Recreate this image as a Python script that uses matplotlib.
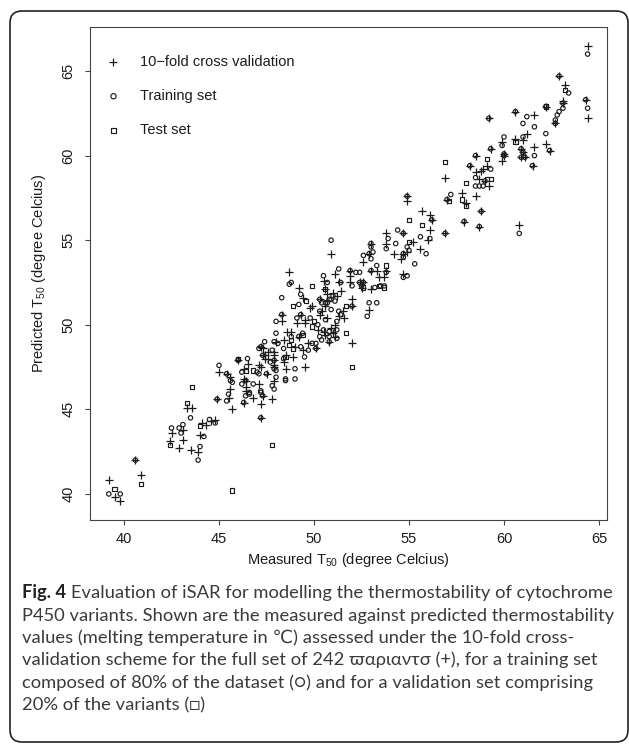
import matplotlib
matplotlib.use("Agg")
import matplotlib.pyplot as plt
from matplotlib.patches import FancyBboxPatch

# --- data (measured T50, predicted T50) ---
cv_measured = [39.2, 39.5, 39.8, 40.6, 40.9, 42.4, 42.5, 42.9, 43.1, 43.1, 43.3, 43.6, 43.5, 43.9, 44.0,
               44.1, 44.3, 44.6, 44.8, 44.9, 45.0, 45.4, 45.5, 45.7, 45.6, 45.6, 46.0, 46.3, 46.4, 46.3,
               46.5, 46.3, 46.8, 47.1, 47.2, 47.2, 47.3, 47.2, 47.3, 47.8, 47.9, 47.9, 48.5, 49.5,
               46.4, 46.4, 47.5, 47.2, 47.4, 47.6, 47.9,
               49.2, 50.7, 51.0, 51.2, 50.3, 50.6, 48.3, 48.3, 49.3, 49.1, 49.5, 49.8, 50.3,
               50.4, 50.7, 51.1, 50.2, 51.3, 50.6, 48.6, 48.8, 49.2, 48.0, 48.4, 49.7, 51.1,
               47.6, 47.9, 48.5, 49.0, 49.4, 47.3, 47.4, 48.9, 47.9, 47.9, 48.4, 47.1,
               50.9, 53.0, 52.6, 53.0, 53.3, 53.4, 53.7, 53.0, 51.9, 51.9, 52.4, 52.5, 51.9, 51.1,
               51.3, 50.5, 49.4, 48.7, 50.6, 51.4, 50.7, 51.5, 52.0, 52.0, 51.6, 52.9, 49.5, 49.9,
               50.9, 51.0, 50.5,
               54.9, 55.7, 56.1, 56.2, 56.1, 56.0, 55.6, 54.7, 55.2, 54.9, 54.6, 54.7, 54.2, 53.8,
               53.8, 52.9, 53.8, 54.7, 52.6,
               59.3, 58.5, 59.1, 56.9, 58.2, 58.5, 58.8, 58.7, 59.0, 59.2, 54.9, 57.0, 57.8, 58.0,
               58.5, 58.8, 57.9, 58.7, 56.9,
               63.2, 62.2, 63.1, 62.7, 60.6, 61.6, 59.2, 61.2, 61.0, 60.6, 59.9, 62.2, 62.4, 61.6,
               60.9, 61.0, 61.1, 60.9, 60.0, 60.0, 59.9, 61.5, 58.9,
               64.4, 62.9, 64.3, 64.4, 63.1, 60.8, 52.0, 50.8, 50.1]
cv_predicted = [40.8, 39.8, 39.6, 42.0, 41.1, 43.1, 43.6, 42.7, 43.8, 43.2, 45.1, 45.1, 42.6, 42.5, 43.5,
                44.2, 44.1, 44.3, 44.4, 45.6, 47.2, 47.1, 45.7, 45.0, 46.2, 46.9, 47.9, 46.8, 46.3, 45.4,
                47.7, 47.4, 45.7, 46.5, 44.5, 45.3, 45.8, 47.5, 48.6, 45.6, 46.7, 47.5, 47.4, 47.5,
                46.7, 46.1, 47.1, 48.7, 48.2, 48.0, 48.2,
                52.2, 51.8, 51.9, 51.7, 51.5, 51.1, 50.6, 50.2, 50.6, 50.1, 50.1, 51.0, 50.6,
                50.8, 50.4, 50.0, 49.7, 50.5, 49.4, 49.6, 49.6, 49.3, 49.0, 49.1, 48.9, 49.3,
                48.4, 48.4, 48.2, 48.7, 48.5, 48.2, 48.0, 48.1, 47.9, 47.6, 47.8, 47.6,
                54.2, 54.8, 53.7, 53.2, 53.2, 52.8, 52.8, 52.1, 53.2, 52.9, 52.5, 52.2, 52.5, 53.0,
                52.5, 52.6, 51.6, 53.1, 52.1, 52.0, 51.4, 50.8, 51.5, 51.1, 50.4, 50.9, 50.3, 51.1,
                49.8, 49.5, 49.6,
                57.3, 56.7, 56.5, 56.2, 55.6, 55.0, 54.5, 55.4, 54.9, 54.3, 53.9, 54.2, 54.2, 55.4,
                54.8, 54.2, 53.2, 53.0, 52.5,
                60.4, 60.0, 59.4, 58.7, 59.4, 59.0, 59.1, 58.6, 58.5, 58.2, 57.6, 57.4, 57.8, 57.2,
                57.6, 56.7, 56.1, 55.8, 55.4,
                64.2, 62.9, 63.1, 61.9, 62.6, 62.4, 62.2, 61.3, 60.9, 61.0, 60.8, 60.7, 60.3, 60.5,
                60.4, 60.2, 59.9, 59.9, 60.1, 60.0, 59.7, 59.4, 59.2,
                66.5, 64.7, 63.3, 62.2, 63.2, 55.9, 48.9, 49.0, 48.6]

train_measured = [39.2, 39.8, 40.6, 42.5, 42.9, 43.0, 43.1, 43.5, 43.9, 44.0, 44.2, 44.5, 44.8, 44.9,
                  45.0, 45.4, 45.4, 45.5, 45.6, 46.0, 46.2, 46.3, 46.4, 46.5, 46.6, 46.8, 47.2, 47.2,
                  47.3, 47.1, 47.1, 47.9, 48.0, 48.5, 49.0, 46.2, 45.7, 46.6, 47.2, 47.8, 47.5, 47.2,
                  47.4, 47.8, 47.9, 48.1, 47.7, 46.4, 47.0,
                  48.7, 49.3, 48.3, 49.2, 50.3, 50.4, 50.7, 50.9, 48.3, 48.0, 49.3, 49.1, 49.8, 50.3,
                  50.6, 50.9, 50.2, 51.2, 50.8, 50.4, 48.8, 49.2, 48.0, 49.9, 50.3, 50.8, 48.4, 49.3,
                  49.7, 47.3, 48.4, 49.5, 47.9, 47.9, 49.0, 48.0, 48.5,
                  50.9, 53.0, 53.0, 52.9, 52.6, 53.3, 53.0, 53.8, 53.2, 52.4, 51.9, 52.4, 52.5, 52.0,
                  51.3, 51.4, 50.5, 50.7, 48.8, 51.0, 50.8, 50.6, 51.1, 52.0, 51.3, 51.4, 52.9, 52.8,
                  53.3, 49.4, 51.2, 50.5, 50.8, 51.2, 50.1, 50.1,
                  56.2, 55.6, 56.1, 55.9, 55.3, 54.7, 54.4, 54.9, 55.0, 54.7, 54.3, 54.7, 53.9, 53.8,
                  53.1, 53.0, 52.2, 54.7, 54.9, 53.5, 53.7, 52.6,
                  59.3, 58.5, 59.3, 58.2, 58.5, 59.0, 58.5, 58.7, 58.9, 54.9, 57.2, 57.0, 58.8, 57.9,
                  58.7, 56.9,
                  63.4, 62.2, 63.1, 63.1, 62.9, 62.8, 62.7, 62.7, 60.6, 61.2, 61.0, 61.6, 59.2, 62.2,
                  61.0, 60.0, 59.9, 62.4, 61.6, 60.9, 61.0, 61.1, 60.9, 60.0, 60.0, 61.5,
                  64.4, 62.9, 64.3, 64.4, 60.8]
train_predicted = [40.0, 40.0, 42.0, 43.9, 43.9, 43.6, 44.1, 44.5, 42.0, 42.8, 43.4, 44.4, 44.2, 45.6,
                   47.6, 47.1, 45.5, 45.9, 46.7, 47.9, 46.5, 45.4, 45.8, 48.0, 45.9, 46.5, 44.5, 46.1,
                   45.8, 47.1, 48.6, 46.2, 47.3, 46.7, 46.8, 47.2, 46.6, 46.0, 46.0, 46.4, 47.1, 48.7,
                   49.0, 48.5, 49.0, 48.9, 47.8, 46.7, 47.2,
                   52.4, 51.8, 51.6, 51.2, 51.5, 51.3, 51.3, 51.5, 50.6, 50.2, 50.6, 50.4, 50.4, 50.8,
                   50.3, 50.9, 50.0, 50.2, 49.6, 49.1, 49.3, 49.3, 49.5, 48.9, 49.3, 49.0, 48.6, 48.7,
                   48.5, 48.2, 48.0, 48.1, 47.9, 47.4, 47.4, 46.9, 46.8,
                   55.0, 54.8, 54.6, 54.2, 54.1, 53.5, 53.2, 53.1, 52.2, 53.1, 53.2, 52.5, 52.3, 52.3,
                   53.3, 52.5, 52.9, 52.5, 52.5, 51.7, 51.5, 51.3, 51.4, 51.1, 50.8, 50.6, 51.3, 50.5,
                   51.3, 49.5, 49.7, 49.7, 49.3, 49.2, 48.9, 48.6,
                   56.2, 55.2, 55.1, 54.2, 53.6, 55.4, 55.6, 54.6, 54.4, 54.0, 54.8, 54.2, 55.1, 54.5,
                   54.3, 53.9, 53.1, 52.8, 52.9, 52.3, 52.3, 52.5,
                   60.4, 60.0, 59.2, 59.4, 58.7, 58.5, 58.2, 58.2, 58.2, 57.6, 57.7, 57.4, 56.7, 56.1,
                   55.8, 55.4,
                   63.7, 62.9, 63.1, 62.8, 62.6, 62.4, 62.1, 61.9, 62.6, 62.3, 61.9, 61.7, 62.2, 61.3,
                   61.1, 61.1, 60.6, 60.3, 60.0, 60.4, 60.2, 59.9, 59.9, 60.1, 60.0, 59.4,
                   66.0, 64.7, 63.3, 62.8, 55.4]

test_measured = [39.5, 40.9, 42.4, 43.3, 43.6, 44.0, 45.7, 46.0, 46.4, 46.8, 47.8, 49.9, 50.6, 48.9,
                 49.6, 50.0, 49.4, 51.0, 48.9, 48.7, 48.8, 48.5, 53.8, 53.4, 52.6, 51.7, 49.9, 51.7,
                 55.0, 55.7, 55.0, 53.7, 59.1, 56.9, 58.0, 59.1, 59.3, 57.1, 57.8, 58.0, 63.2, 60.6,
                 52.0, 62.2]
test_predicted = [40.3, 40.6, 42.9, 45.4, 46.3, 44.0, 40.2, 48.0, 47.3, 47.3, 42.9, 52.3, 52.1, 51.1,
                  51.4, 50.2, 49.4, 49.7, 48.6, 48.8, 49.1, 48.1, 53.5, 52.3, 52.2, 51.1, 49.9, 49.5,
                  56.2, 55.9, 54.9, 52.2, 59.8, 59.6, 58.4, 58.6, 58.6, 57.3, 57.4, 57.0, 63.9, 60.8,
                  47.5, 62.9]

legend_labels = ["10\u2212fold cross validation", "Training set", "Test set"]
x_ticks = [40, 45, 50, 55, 60, 65]
y_ticks = [40, 45, 50, 55, 60, 65]

caption_lines = [
    "P450 variants. Shown are the measured against predicted thermostability",
    "values (melting temperature in \u2103) assessed under the 10-fold cross-",
    "validation scheme for the full set of 242 \u03d6\u03b1\u03c1\u03b9\u03b1\u03bd\u03c4\u03c3 (+), for a training set",
    "composed of 80% of the dataset (\u25cb) and for a validation set comprising",
    "20% of the variants (\u25a1)",
]

# --- look ---
plt.rcParams["font.family"] = ["Liberation Sans", "DejaVu Sans"]
ink = "#1c1c1c"
W, H = 629, 745

fig = plt.figure(figsize=(W / 100, H / 100), dpi=100)
ax = fig.add_axes([90 / W, 1 - 520 / H, 517 / W, 493 / H])

p1 = ax.scatter(cv_measured, cv_predicted, marker="+", s=26, linewidths=0.9, color=ink)
p2 = ax.scatter(train_measured, train_predicted, marker="o", s=10, facecolors="none",
                edgecolors=ink, linewidths=0.85)
p3 = ax.scatter(test_measured, test_predicted, marker="s", s=9, facecolors="none",
                edgecolors=ink, linewidths=0.85)

ax.set_xlim(38.21, 65.42)
ax.set_ylim(38.46, 67.6)
ax.set_xticks(x_ticks)
ax.set_yticks(y_ticks)
for sp in ax.spines.values():
    sp.set_color("#444444")
    sp.set_linewidth(0.8)
ax.tick_params(axis="both", direction="out", length=3.8, width=0.8, color="#444444",
               labelsize=10.5, labelcolor=ink)
ax.tick_params(axis="x", pad=4.5)
ax.tick_params(axis="y", pad=6.5, labelrotation=90)
for lab in ax.get_yticklabels():
    lab.set_verticalalignment("center")

ax.set_xlabel("Measured T$_{\\mathregular{50}}$ (degree Celcius)", fontsize=10.5, color=ink, labelpad=4)
ax.set_ylabel("Predicted T$_{\\mathregular{50}}$ (degree Celcius)", fontsize=10.5, color=ink, labelpad=10)

ax.legend([p1, p2, p3], legend_labels, loc="upper left", bbox_to_anchor=(0.0257, 0.943),
          frameon=False, borderaxespad=0, borderpad=0, handlelength=1.4, handletextpad=1.1,
          labelspacing=1.37, fontsize=10.5, scatterpoints=1, markerscale=1.2,
          labelcolor=ink)

# --- caption under the plot ---
cap_font = ["Lato", "DejaVu Sans"]
cap_size = 13.2
r = fig.canvas.get_renderer()
base = [598, 620.5, 643, 665.5, 688, 710.5]
t = fig.text(22 / W, 1 - base[0] / H, "Fig. 4", family=cap_font, fontweight="bold",
             fontsize=cap_size, color="#222222", va="baseline")
bb = t.get_window_extent(renderer=r)
fig.text(bb.x1 / W + 5 / W, 1 - base[0] / H,
         "Evaluation of iSAR for modelling the thermostability of cytochrome",
         family=cap_font, fontsize=cap_size, color="#3a3a3a", va="baseline")
for i, line in enumerate(caption_lines):
    fig.text(22 / W, 1 - base[i + 1] / H, line, family=cap_font, fontsize=cap_size,
             color="#3a3a3a", va="baseline")

# rounded frame around everything
frame = FancyBboxPatch((0.10, 0.03), 6.18, 7.31, boxstyle="round,pad=0,rounding_size=0.12",
                       transform=fig.dpi_scale_trans, facecolor="none", edgecolor="#222222",
                       linewidth=1.2)
fig.patches.append(frame)

fig.savefig("out.png", dpi=100)
